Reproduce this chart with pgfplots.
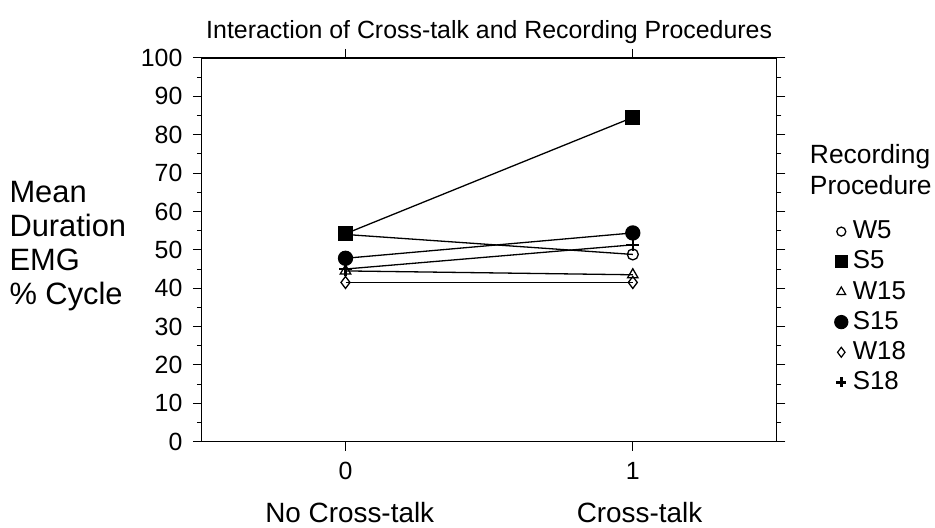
\documentclass[border=0pt]{standalone}
\usepackage{fontspec}
\setmainfont{Liberation Sans}
\usepackage{pgfplots}
\pgfplotsset{compat=1.18}
\begin{document}
\begin{tikzpicture}
\begin{axis}[
  scale only axis,
  width=575bp, height=384bp,
  xmin=-0.5, xmax=1.5,
  ymin=0, ymax=100,
  xtick={0,1},
  ytick={0,10,...,100},
  minor y tick num=1,
  tick align=outside,
  tick pos=both,
  major tick length=9bp,
  minor tick length=5bp,
  axis line style={line width=1.2bp},
  every tick/.style={line width=1bp, black},
  yticklabel pos=left,
  xticklabel pos=bottom,
  /pgf/number format/assume math mode=true,
  tick label style={font=\fontsize{25}{28}\selectfont},
  xticklabel style={yshift=-8bp},
  yticklabel style={xshift=-7bp},
  title={Interaction of Cross-talk and Recording Procedures},
  title style={font=\fontsize{25}{28}\selectfont, yshift=5bp},
  legend style={draw=none, fill=none, at={(1.096,0.5925)}, anchor=north west,
    font=\fontsize{26}{28}\selectfont, row sep=0bp,
    nodes={text height=20.2bp, text depth=6bp},
    /tikz/every odd column/.style={column sep=3bp}},
  legend cell align=left,
  every axis plot/.append style={black, line width=1.3bp},
]
\addplot[mark=o, mark size=5.5bp, mark options={fill=white, line width=1.3bp}, forget plot]
  coordinates {(0,54.0) (1,48.8)};
\addplot[mark=square*, mark size=7bp, forget plot]
  coordinates {(0,54.2) (1,84.5)};
\addplot[mark=triangle, mark size=6bp, mark options={fill=white, line width=1.3bp}, forget plot]
  coordinates {(0,44.5) (1,43.5)};
\addplot[mark=*, mark size=7bp, forget plot]
  coordinates {(0,47.8) (1,54.4)};
\addplot[mark=diamond, mark size=6bp, mark options={fill=white, line width=1.3bp}, forget plot]
  coordinates {(0,41.5) (1,41.5)};
\addplot[mark=+, mark size=6.5bp, mark options={line width=2.4bp}, forget plot]
  coordinates {(0,45.0) (1,51.3)};
\addlegendimage{only marks, mark=o, mark size=4.5bp, black, line width=1.3bp}
\addlegendentry{W5}
\addlegendimage{only marks, mark=square*, mark size=6bp, black}
\addlegendentry{S5}
\addlegendimage{only marks, mark=triangle, mark size=5bp, black, line width=1.2bp}
\addlegendentry{W15}
\addlegendimage{only marks, mark=*, mark size=6.5bp, black}
\addlegendentry{S15}
\addlegendimage{only marks, mark=diamond, mark size=5bp, black, line width=1.2bp}
\addlegendentry{W18}
\addlegendimage{only marks, mark=+, mark size=5bp, black, line width=2.4bp}
\addlegendentry{S18}
\end{axis}
\node[anchor=west, align=left, font=\fontsize{31}{34}\selectfont]
  at ([xshift=-196bp,yshift=-188bp]current axis.north west)
  {Mean\\Duration\\EMG\\\% Cycle};
\node[anchor=base west, font=\fontsize{26.5}{30}\selectfont]
  at ([xshift=30bp,yshift=-106bp]current axis.north east) {Recording};
\node[anchor=base west, font=\fontsize{26.5}{30}\selectfont]
  at ([xshift=30bp,yshift=-137bp]current axis.north east) {Procedure};
\node[font=\fontsize{28}{30}\selectfont, anchor=base, inner sep=0pt, text depth=0pt]
  at ([xshift=148bp,yshift=-81bp]current axis.south west) {No Cross-talk};
\node[font=\fontsize{28}{30}\selectfont, anchor=base, inner sep=0pt, text depth=0pt]
  at ([xshift=438bp,yshift=-81bp]current axis.south west) {Cross-talk};
\useasboundingbox ([xshift=-202bp,yshift=-86bp]current axis.south west)
  rectangle ([xshift=158bp,yshift=58bp]current axis.north east);
\end{tikzpicture}
\end{document}
